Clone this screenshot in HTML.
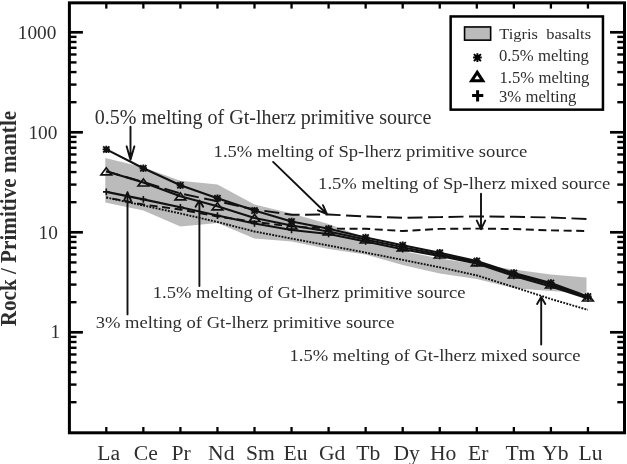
<!DOCTYPE html>
<html><head><meta charset="utf-8"><style>
html,body{margin:0;padding:0;background:#fff;}
body{width:627px;height:464px;overflow:hidden;}
svg{display:block;will-change:transform;}
</style></head><body>
<svg width="627" height="464" viewBox="0 0 627 464">
<polygon points="105.30,158.10 143.35,167.30 180.40,180.70 217.45,184.60 254.50,204.50 291.55,213.50 328.60,224.00 365.65,238.00 402.70,251.00 439.75,258.50 476.80,264.00 513.85,269.50 550.90,274.60 586.50,277.60 586.50,293.00 550.90,291.00 513.85,288.30 476.80,279.00 439.75,273.50 402.70,265.00 365.65,254.40 328.60,249.00 291.55,241.50 254.50,238.50 217.45,223.00 180.40,226.50 143.35,210.60 105.30,202.50" fill="#bbbbbb" stroke="none"/>
<polyline points="106.30,197.50 143.35,205.50 180.40,213.50 217.45,222.00 254.50,231.50 291.55,238.60 328.60,245.50 365.65,252.60 402.70,259.90 439.75,267.30 476.80,275.40 513.85,287.00 550.90,299.00 587.95,309.90" fill="none" stroke="#111" stroke-width="1.9" stroke-dasharray="1.9 1.25"/>
<polyline points="106.30,197.50 143.35,204.50 180.40,209.50 217.45,216.50 254.50,221.90 291.55,226.50 328.60,228.60 365.65,228.80 402.70,231.00 439.75,228.90 476.80,228.60 513.85,229.00 550.90,230.40 587.95,231.00" fill="none" stroke="#111" stroke-width="1.9" stroke-dasharray="8 4.6" stroke-dashoffset="6.36"/>
<polyline points="106.30,171.30 143.35,182.00 180.40,193.50 217.45,201.30 254.50,209.50 291.55,214.80 328.60,214.50 365.65,216.50 402.70,217.80 439.75,217.10 476.80,216.40 513.85,216.80 550.90,217.50 587.95,219.00" fill="none" stroke="#111" stroke-width="1.9" stroke-dasharray="15 5.5" stroke-dashoffset="0.86"/>
<polyline points="106.30,149.40 143.35,168.20 180.40,185.20 217.45,198.30 254.50,210.60 291.55,221.50 328.60,228.80 365.65,237.50 402.70,245.30 439.75,252.80 476.80,261.00 513.85,273.00 550.90,283.00 587.95,296.50" fill="none" stroke="#111" stroke-width="2.1" stroke-linejoin="round"/>
<polyline points="106.30,171.30 143.35,182.50 180.40,196.30 217.45,206.30 254.50,218.00 291.55,225.50 328.60,231.50 365.65,239.50 402.70,247.30 439.75,254.50 476.80,262.30 513.85,274.50 550.90,284.50 587.95,297.50" fill="none" stroke="#111" stroke-width="2.1" stroke-linejoin="round"/>
<polyline points="106.30,191.90 143.35,199.40 180.40,207.20 217.45,215.60 254.50,223.50 291.55,230.00 328.60,234.00 365.65,241.50 402.70,249.30 439.75,256.00 476.80,263.50 513.85,276.00 550.90,286.50 587.95,298.50" fill="none" stroke="#111" stroke-width="2.1" stroke-linejoin="round"/>
<path d="M103.20 146.30L109.40 152.50M103.20 152.50L109.40 146.30M102.60 149.40L110.00 149.40M106.30 145.70L106.30 153.10" stroke="#111" stroke-width="1.9"/>
<path d="M140.25 165.10L146.45 171.30M140.25 171.30L146.45 165.10M139.65 168.20L147.05 168.20M143.35 164.50L143.35 171.90" stroke="#111" stroke-width="1.9"/>
<path d="M177.30 182.10L183.50 188.30M177.30 188.30L183.50 182.10M176.70 185.20L184.10 185.20M180.40 181.50L180.40 188.90" stroke="#111" stroke-width="1.9"/>
<path d="M214.35 195.20L220.55 201.40M214.35 201.40L220.55 195.20M213.75 198.30L221.15 198.30M217.45 194.60L217.45 202.00" stroke="#111" stroke-width="1.9"/>
<path d="M251.40 207.50L257.60 213.70M251.40 213.70L257.60 207.50M250.80 210.60L258.20 210.60M254.50 206.90L254.50 214.30" stroke="#111" stroke-width="1.9"/>
<path d="M288.45 218.40L294.65 224.60M288.45 224.60L294.65 218.40M287.85 221.50L295.25 221.50M291.55 217.80L291.55 225.20" stroke="#111" stroke-width="1.9"/>
<path d="M325.50 225.70L331.70 231.90M325.50 231.90L331.70 225.70M324.90 228.80L332.30 228.80M328.60 225.10L328.60 232.50" stroke="#111" stroke-width="1.9"/>
<path d="M362.55 234.40L368.75 240.60M362.55 240.60L368.75 234.40M361.95 237.50L369.35 237.50M365.65 233.80L365.65 241.20" stroke="#111" stroke-width="1.9"/>
<path d="M399.60 242.20L405.80 248.40M399.60 248.40L405.80 242.20M399.00 245.30L406.40 245.30M402.70 241.60L402.70 249.00" stroke="#111" stroke-width="1.9"/>
<path d="M436.65 249.70L442.85 255.90M436.65 255.90L442.85 249.70M436.05 252.80L443.45 252.80M439.75 249.10L439.75 256.50" stroke="#111" stroke-width="1.9"/>
<path d="M473.70 257.90L479.90 264.10M473.70 264.10L479.90 257.90M473.10 261.00L480.50 261.00M476.80 257.30L476.80 264.70" stroke="#111" stroke-width="1.9"/>
<path d="M510.75 269.90L516.95 276.10M510.75 276.10L516.95 269.90M510.15 273.00L517.55 273.00M513.85 269.30L513.85 276.70" stroke="#111" stroke-width="1.9"/>
<path d="M547.80 279.90L554.00 286.10M547.80 286.10L554.00 279.90M547.20 283.00L554.60 283.00M550.90 279.30L550.90 286.70" stroke="#111" stroke-width="1.9"/>
<path d="M584.85 293.40L591.05 299.60M584.85 299.60L591.05 293.40M584.25 296.50L591.65 296.50M587.95 292.80L587.95 300.20" stroke="#111" stroke-width="1.9"/>
<polygon points="106.30,167.80 101.00,174.80 111.60,174.80" fill="none" stroke="#111" stroke-width="1.7" stroke-linejoin="miter"/>
<polygon points="143.35,179.00 138.05,186.00 148.65,186.00" fill="none" stroke="#111" stroke-width="1.7" stroke-linejoin="miter"/>
<polygon points="180.40,192.80 175.10,199.80 185.70,199.80" fill="none" stroke="#111" stroke-width="1.7" stroke-linejoin="miter"/>
<polygon points="217.45,202.80 212.15,209.80 222.75,209.80" fill="none" stroke="#111" stroke-width="1.7" stroke-linejoin="miter"/>
<polygon points="254.50,214.50 249.20,221.50 259.80,221.50" fill="none" stroke="#111" stroke-width="1.7" stroke-linejoin="miter"/>
<polygon points="291.55,222.00 286.25,229.00 296.85,229.00" fill="none" stroke="#111" stroke-width="1.7" stroke-linejoin="miter"/>
<polygon points="328.60,228.00 323.30,235.00 333.90,235.00" fill="none" stroke="#111" stroke-width="1.7" stroke-linejoin="miter"/>
<polygon points="365.65,236.00 360.35,243.00 370.95,243.00" fill="none" stroke="#111" stroke-width="1.7" stroke-linejoin="miter"/>
<polygon points="402.70,243.80 397.40,250.80 408.00,250.80" fill="none" stroke="#111" stroke-width="1.7" stroke-linejoin="miter"/>
<polygon points="439.75,251.00 434.45,258.00 445.05,258.00" fill="none" stroke="#111" stroke-width="1.7" stroke-linejoin="miter"/>
<polygon points="476.80,258.80 471.50,265.80 482.10,265.80" fill="none" stroke="#111" stroke-width="1.7" stroke-linejoin="miter"/>
<polygon points="513.85,271.00 508.55,278.00 519.15,278.00" fill="none" stroke="#111" stroke-width="1.7" stroke-linejoin="miter"/>
<polygon points="550.90,281.00 545.60,288.00 556.20,288.00" fill="none" stroke="#111" stroke-width="1.7" stroke-linejoin="miter"/>
<polygon points="587.95,294.00 582.65,301.00 593.25,301.00" fill="none" stroke="#111" stroke-width="1.7" stroke-linejoin="miter"/>
<path d="M103.00 191.90L109.60 191.90M106.30 188.60L106.30 195.20" stroke="#111" stroke-width="1.6"/>
<path d="M140.05 199.40L146.65 199.40M143.35 196.10L143.35 202.70" stroke="#111" stroke-width="1.6"/>
<path d="M177.10 207.20L183.70 207.20M180.40 203.90L180.40 210.50" stroke="#111" stroke-width="1.6"/>
<path d="M214.15 215.60L220.75 215.60M217.45 212.30L217.45 218.90" stroke="#111" stroke-width="1.6"/>
<path d="M251.20 223.50L257.80 223.50M254.50 220.20L254.50 226.80" stroke="#111" stroke-width="1.6"/>
<path d="M288.25 230.00L294.85 230.00M291.55 226.70L291.55 233.30" stroke="#111" stroke-width="1.6"/>
<path d="M325.30 234.00L331.90 234.00M328.60 230.70L328.60 237.30" stroke="#111" stroke-width="1.6"/>
<path d="M362.35 241.50L368.95 241.50M365.65 238.20L365.65 244.80" stroke="#111" stroke-width="1.6"/>
<path d="M399.40 249.30L406.00 249.30M402.70 246.00L402.70 252.60" stroke="#111" stroke-width="1.6"/>
<path d="M436.45 256.00L443.05 256.00M439.75 252.70L439.75 259.30" stroke="#111" stroke-width="1.6"/>
<path d="M473.50 263.50L480.10 263.50M476.80 260.20L476.80 266.80" stroke="#111" stroke-width="1.6"/>
<path d="M510.55 276.00L517.15 276.00M513.85 272.70L513.85 279.30" stroke="#111" stroke-width="1.6"/>
<path d="M547.60 286.50L554.20 286.50M550.90 283.20L550.90 289.80" stroke="#111" stroke-width="1.6"/>
<path d="M584.65 298.50L591.25 298.50M587.95 295.20L587.95 301.80" stroke="#111" stroke-width="1.6"/>
<path d="M130.50 126.70L130.50 159.80M126.60 146.30L130.50 159.80L134.40 146.30" fill="none" stroke="#111" stroke-width="1.90" stroke-linecap="round" stroke-linejoin="round"/>
<path d="M273.10 161.90L326.90 214.00M317.93 210.33L326.90 214.00L322.94 205.15" fill="none" stroke="#111" stroke-width="1.90" stroke-linecap="round" stroke-linejoin="round"/>
<path d="M481.00 193.80L481.00 229.20M476.80 220.60L481.00 229.20L485.20 220.60" fill="none" stroke="#111" stroke-width="1.90" stroke-linecap="round" stroke-linejoin="round"/>
<path d="M199.40 286.00L199.40 200.60M203.20 206.80L199.40 200.60L195.60 206.80" fill="none" stroke="#111" stroke-width="1.90" stroke-linecap="round" stroke-linejoin="round"/>
<path d="M127.50 314.40L127.50 192.30M131.00 200.70L127.50 192.30L124.00 200.70" fill="none" stroke="#111" stroke-width="1.90" stroke-linecap="round" stroke-linejoin="round"/>
<path d="M541.20 344.50L541.20 296.90M545.30 303.90L541.20 296.90L537.10 303.90" fill="none" stroke="#111" stroke-width="1.90" stroke-linecap="round" stroke-linejoin="round"/>
<rect x="69.40" y="2.85" width="555.10" height="429.95" fill="none" stroke="#000" stroke-width="3.00"/>
<line x1="106.30" y1="432.80" x2="106.30" y2="427" stroke="#000" stroke-width="2.3"/>
<line x1="106.30" y1="2.85" x2="106.30" y2="8.6" stroke="#000" stroke-width="2.3"/>
<line x1="143.35" y1="432.80" x2="143.35" y2="427" stroke="#000" stroke-width="2.3"/>
<line x1="143.35" y1="2.85" x2="143.35" y2="8.6" stroke="#000" stroke-width="2.3"/>
<line x1="180.40" y1="432.80" x2="180.40" y2="427" stroke="#000" stroke-width="2.3"/>
<line x1="180.40" y1="2.85" x2="180.40" y2="8.6" stroke="#000" stroke-width="2.3"/>
<line x1="217.45" y1="432.80" x2="217.45" y2="427" stroke="#000" stroke-width="2.3"/>
<line x1="217.45" y1="2.85" x2="217.45" y2="8.6" stroke="#000" stroke-width="2.3"/>
<line x1="254.50" y1="432.80" x2="254.50" y2="427" stroke="#000" stroke-width="2.3"/>
<line x1="254.50" y1="2.85" x2="254.50" y2="8.6" stroke="#000" stroke-width="2.3"/>
<line x1="291.55" y1="432.80" x2="291.55" y2="427" stroke="#000" stroke-width="2.3"/>
<line x1="291.55" y1="2.85" x2="291.55" y2="8.6" stroke="#000" stroke-width="2.3"/>
<line x1="328.60" y1="432.80" x2="328.60" y2="427" stroke="#000" stroke-width="2.3"/>
<line x1="328.60" y1="2.85" x2="328.60" y2="8.6" stroke="#000" stroke-width="2.3"/>
<line x1="365.65" y1="432.80" x2="365.65" y2="427" stroke="#000" stroke-width="2.3"/>
<line x1="365.65" y1="2.85" x2="365.65" y2="8.6" stroke="#000" stroke-width="2.3"/>
<line x1="402.70" y1="432.80" x2="402.70" y2="427" stroke="#000" stroke-width="2.3"/>
<line x1="402.70" y1="2.85" x2="402.70" y2="8.6" stroke="#000" stroke-width="2.3"/>
<line x1="439.75" y1="432.80" x2="439.75" y2="427" stroke="#000" stroke-width="2.3"/>
<line x1="439.75" y1="2.85" x2="439.75" y2="8.6" stroke="#000" stroke-width="2.3"/>
<line x1="476.80" y1="432.80" x2="476.80" y2="427" stroke="#000" stroke-width="2.3"/>
<line x1="476.80" y1="2.85" x2="476.80" y2="8.6" stroke="#000" stroke-width="2.3"/>
<line x1="513.85" y1="432.80" x2="513.85" y2="427" stroke="#000" stroke-width="2.3"/>
<line x1="513.85" y1="2.85" x2="513.85" y2="8.6" stroke="#000" stroke-width="2.3"/>
<line x1="550.90" y1="432.80" x2="550.90" y2="427" stroke="#000" stroke-width="2.3"/>
<line x1="550.90" y1="2.85" x2="550.90" y2="8.6" stroke="#000" stroke-width="2.3"/>
<line x1="587.95" y1="432.80" x2="587.95" y2="427" stroke="#000" stroke-width="2.3"/>
<line x1="587.95" y1="2.85" x2="587.95" y2="8.6" stroke="#000" stroke-width="2.3"/>
<line x1="69.40" y1="32.30" x2="82.9" y2="32.30" stroke="#000" stroke-width="2.7"/>
<line x1="624.50" y1="32.30" x2="610" y2="32.30" stroke="#000" stroke-width="2.7"/>
<line x1="69.40" y1="132.30" x2="82.9" y2="132.30" stroke="#000" stroke-width="2.7"/>
<line x1="624.50" y1="132.30" x2="610" y2="132.30" stroke="#000" stroke-width="2.7"/>
<line x1="69.40" y1="232.30" x2="82.9" y2="232.30" stroke="#000" stroke-width="2.7"/>
<line x1="624.50" y1="232.30" x2="610" y2="232.30" stroke="#000" stroke-width="2.7"/>
<line x1="69.40" y1="332.30" x2="82.9" y2="332.30" stroke="#000" stroke-width="2.7"/>
<line x1="624.50" y1="332.30" x2="610" y2="332.30" stroke="#000" stroke-width="2.7"/>
<line x1="69.40" y1="402.20" x2="76.5" y2="402.20" stroke="#000" stroke-width="2.4"/>
<line x1="624.50" y1="402.20" x2="617.3" y2="402.20" stroke="#000" stroke-width="2.4"/>
<line x1="69.40" y1="384.59" x2="76.5" y2="384.59" stroke="#000" stroke-width="2.4"/>
<line x1="624.50" y1="384.59" x2="617.3" y2="384.59" stroke="#000" stroke-width="2.4"/>
<line x1="69.40" y1="372.09" x2="76.5" y2="372.09" stroke="#000" stroke-width="2.4"/>
<line x1="624.50" y1="372.09" x2="617.3" y2="372.09" stroke="#000" stroke-width="2.4"/>
<line x1="69.40" y1="362.40" x2="76.5" y2="362.40" stroke="#000" stroke-width="2.4"/>
<line x1="624.50" y1="362.40" x2="617.3" y2="362.40" stroke="#000" stroke-width="2.4"/>
<line x1="69.40" y1="354.48" x2="76.5" y2="354.48" stroke="#000" stroke-width="2.4"/>
<line x1="624.50" y1="354.48" x2="617.3" y2="354.48" stroke="#000" stroke-width="2.4"/>
<line x1="69.40" y1="347.79" x2="76.5" y2="347.79" stroke="#000" stroke-width="2.4"/>
<line x1="624.50" y1="347.79" x2="617.3" y2="347.79" stroke="#000" stroke-width="2.4"/>
<line x1="69.40" y1="341.99" x2="76.5" y2="341.99" stroke="#000" stroke-width="2.4"/>
<line x1="624.50" y1="341.99" x2="617.3" y2="341.99" stroke="#000" stroke-width="2.4"/>
<line x1="69.40" y1="336.88" x2="76.5" y2="336.88" stroke="#000" stroke-width="2.4"/>
<line x1="624.50" y1="336.88" x2="617.3" y2="336.88" stroke="#000" stroke-width="2.4"/>
<line x1="69.40" y1="302.20" x2="76.5" y2="302.20" stroke="#000" stroke-width="2.4"/>
<line x1="624.50" y1="302.20" x2="617.3" y2="302.20" stroke="#000" stroke-width="2.4"/>
<line x1="69.40" y1="284.59" x2="76.5" y2="284.59" stroke="#000" stroke-width="2.4"/>
<line x1="624.50" y1="284.59" x2="617.3" y2="284.59" stroke="#000" stroke-width="2.4"/>
<line x1="69.40" y1="272.09" x2="76.5" y2="272.09" stroke="#000" stroke-width="2.4"/>
<line x1="624.50" y1="272.09" x2="617.3" y2="272.09" stroke="#000" stroke-width="2.4"/>
<line x1="69.40" y1="262.40" x2="76.5" y2="262.40" stroke="#000" stroke-width="2.4"/>
<line x1="624.50" y1="262.40" x2="617.3" y2="262.40" stroke="#000" stroke-width="2.4"/>
<line x1="69.40" y1="254.48" x2="76.5" y2="254.48" stroke="#000" stroke-width="2.4"/>
<line x1="624.50" y1="254.48" x2="617.3" y2="254.48" stroke="#000" stroke-width="2.4"/>
<line x1="69.40" y1="247.79" x2="76.5" y2="247.79" stroke="#000" stroke-width="2.4"/>
<line x1="624.50" y1="247.79" x2="617.3" y2="247.79" stroke="#000" stroke-width="2.4"/>
<line x1="69.40" y1="241.99" x2="76.5" y2="241.99" stroke="#000" stroke-width="2.4"/>
<line x1="624.50" y1="241.99" x2="617.3" y2="241.99" stroke="#000" stroke-width="2.4"/>
<line x1="69.40" y1="236.88" x2="76.5" y2="236.88" stroke="#000" stroke-width="2.4"/>
<line x1="624.50" y1="236.88" x2="617.3" y2="236.88" stroke="#000" stroke-width="2.4"/>
<line x1="69.40" y1="202.20" x2="76.5" y2="202.20" stroke="#000" stroke-width="2.4"/>
<line x1="624.50" y1="202.20" x2="617.3" y2="202.20" stroke="#000" stroke-width="2.4"/>
<line x1="69.40" y1="184.59" x2="76.5" y2="184.59" stroke="#000" stroke-width="2.4"/>
<line x1="624.50" y1="184.59" x2="617.3" y2="184.59" stroke="#000" stroke-width="2.4"/>
<line x1="69.40" y1="172.09" x2="76.5" y2="172.09" stroke="#000" stroke-width="2.4"/>
<line x1="624.50" y1="172.09" x2="617.3" y2="172.09" stroke="#000" stroke-width="2.4"/>
<line x1="69.40" y1="162.40" x2="76.5" y2="162.40" stroke="#000" stroke-width="2.4"/>
<line x1="624.50" y1="162.40" x2="617.3" y2="162.40" stroke="#000" stroke-width="2.4"/>
<line x1="69.40" y1="154.48" x2="76.5" y2="154.48" stroke="#000" stroke-width="2.4"/>
<line x1="624.50" y1="154.48" x2="617.3" y2="154.48" stroke="#000" stroke-width="2.4"/>
<line x1="69.40" y1="147.79" x2="76.5" y2="147.79" stroke="#000" stroke-width="2.4"/>
<line x1="624.50" y1="147.79" x2="617.3" y2="147.79" stroke="#000" stroke-width="2.4"/>
<line x1="69.40" y1="141.99" x2="76.5" y2="141.99" stroke="#000" stroke-width="2.4"/>
<line x1="624.50" y1="141.99" x2="617.3" y2="141.99" stroke="#000" stroke-width="2.4"/>
<line x1="69.40" y1="136.88" x2="76.5" y2="136.88" stroke="#000" stroke-width="2.4"/>
<line x1="624.50" y1="136.88" x2="617.3" y2="136.88" stroke="#000" stroke-width="2.4"/>
<line x1="69.40" y1="102.20" x2="76.5" y2="102.20" stroke="#000" stroke-width="2.4"/>
<line x1="624.50" y1="102.20" x2="617.3" y2="102.20" stroke="#000" stroke-width="2.4"/>
<line x1="69.40" y1="84.59" x2="76.5" y2="84.59" stroke="#000" stroke-width="2.4"/>
<line x1="624.50" y1="84.59" x2="617.3" y2="84.59" stroke="#000" stroke-width="2.4"/>
<line x1="69.40" y1="72.09" x2="76.5" y2="72.09" stroke="#000" stroke-width="2.4"/>
<line x1="624.50" y1="72.09" x2="617.3" y2="72.09" stroke="#000" stroke-width="2.4"/>
<line x1="69.40" y1="62.40" x2="76.5" y2="62.40" stroke="#000" stroke-width="2.4"/>
<line x1="624.50" y1="62.40" x2="617.3" y2="62.40" stroke="#000" stroke-width="2.4"/>
<line x1="69.40" y1="54.48" x2="76.5" y2="54.48" stroke="#000" stroke-width="2.4"/>
<line x1="624.50" y1="54.48" x2="617.3" y2="54.48" stroke="#000" stroke-width="2.4"/>
<line x1="69.40" y1="47.79" x2="76.5" y2="47.79" stroke="#000" stroke-width="2.4"/>
<line x1="624.50" y1="47.79" x2="617.3" y2="47.79" stroke="#000" stroke-width="2.4"/>
<line x1="69.40" y1="41.99" x2="76.5" y2="41.99" stroke="#000" stroke-width="2.4"/>
<line x1="624.50" y1="41.99" x2="617.3" y2="41.99" stroke="#000" stroke-width="2.4"/>
<line x1="69.40" y1="36.88" x2="76.5" y2="36.88" stroke="#000" stroke-width="2.4"/>
<line x1="624.50" y1="36.88" x2="617.3" y2="36.88" stroke="#000" stroke-width="2.4"/>
<rect x="450.65" y="16.45" width="152.3" height="93.2" fill="#fff" stroke="#000" stroke-width="2.5"/>
<rect x="464.55" y="26.95" width="26.1" height="13.2" fill="#bbbbbb" stroke="#000" stroke-width="1.6"/>
<path d="M473.90 54.10L480.90 61.10M473.90 61.10L480.90 54.10M473.10 57.60L481.70 57.60M477.40 53.30L477.40 61.90" stroke="#000" stroke-width="2.0"/>
<polygon points="477.2,72.3 471.6,80.8 482.8,80.8" fill="none" stroke="#000" stroke-width="3" stroke-linejoin="miter"/>
<path d="M472.1 95.6L483.3 95.6M477.6 90.2L477.6 101.4" stroke="#000" stroke-width="3"/>
<g font-family="Liberation Serif" fill="#2e2e2e">
<text x="17.80" y="38.50" font-size="19.3" >1000</text>
<text x="28.40" y="138.50" font-size="19.3" >100</text>
<text x="38.60" y="238.50" font-size="19.3" >10</text>
<text x="50.60" y="338.20" font-size="19.3" >1</text>
<text x="97.20" y="459.60" font-size="21.6" >La</text>
<text x="133.80" y="459.60" font-size="21.6" >Ce</text>
<text x="171.40" y="459.60" font-size="21.6" >Pr</text>
<text x="208.10" y="459.60" font-size="21.6" >Nd</text>
<text x="245.90" y="459.60" font-size="21.6" >Sm</text>
<text x="283.50" y="459.60" font-size="21.6" >Eu</text>
<text x="319.00" y="459.60" font-size="21.6" >Gd</text>
<text x="356.30" y="459.60" font-size="21.6" >Tb</text>
<text x="393.50" y="459.60" font-size="21.6" >Dy</text>
<text x="429.90" y="459.60" font-size="21.6" >Ho</text>
<text x="468.10" y="459.60" font-size="21.6" >Er</text>
<text x="505.40" y="459.60" font-size="21.6" >Tm</text>
<text x="542.20" y="459.60" font-size="21.6" >Yb</text>
<text x="578.60" y="459.60" font-size="21.6" >Lu</text>
<text transform="translate(499.20,38.80) scale(1,0.940)" font-size="16.5" xml:space="preserve">Tigris  basalts</text>
<text transform="translate(499.00,60.70) scale(1,0.940)" font-size="16.7" xml:space="preserve">0.5% melting</text>
<text transform="translate(499.50,82.70) scale(1,0.940)" font-size="16.7" xml:space="preserve">1.5% melting</text>
<text transform="translate(499.00,101.80) scale(1,0.940)" font-size="16.7" xml:space="preserve">3% melting</text>
<text x="94.80" y="124.40" font-size="20" >0.5% melting of Gt-lherz primitive source</text>
<text transform="translate(213.60,157.30) scale(1,0.910)" font-size="18.6" >1.5% melting of Sp-lherz primitive source</text>
<text transform="translate(318.10,189.30) scale(1,0.910)" font-size="18.6" >1.5% melting of Sp-lherz mixed source</text>
<text transform="translate(152.70,298.20) scale(1,0.910)" font-size="18.6" >1.5% melting of Gt-lherz primitive source</text>
<text transform="translate(95.70,328.20) scale(1,0.910)" font-size="18.6" >3% melting of Gt-lherz primitive source</text>
<text transform="translate(289.50,361.20) scale(1,0.910)" font-size="18.6" >1.5% melting of Gt-lherz mixed source</text>
<text transform="translate(16.3,326.3) rotate(-90) scale(0.92,1)" font-size="23" font-weight="bold">Rock / Primitive mantle</text>
</g>
</svg>
</body></html>
